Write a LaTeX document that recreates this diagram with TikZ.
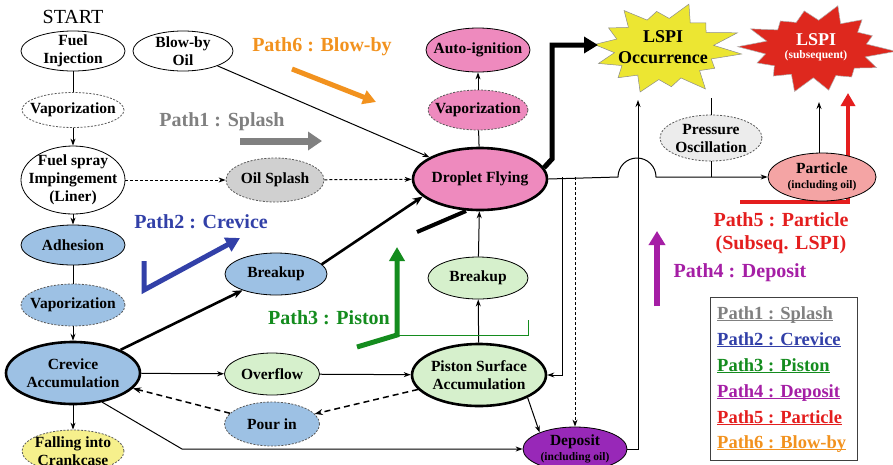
\documentclass[tikz,border=0pt]{standalone}
\usepackage{fontspec}
\setmainfont{Liberation Serif}
\usetikzlibrary{shapes.geometric,arrows.meta,calc}
\newcommand\nodefnt{\fontsize{15.5}{18}\selectfont\bfseries}
\newcommand\smallfnt{\fontsize{11.5}{13}\selectfont\bfseries}
\newcommand\pathfnt{\fontsize{20}{23}\selectfont\bfseries}
\newcommand\legfnt{\fontsize{18.5}{21}\selectfont\bfseries}
\newcommand\lspifnt{\fontsize{18}{21}\selectfont\bfseries}
\newcommand\myul[1]{\underline{\smash{#1}}}
\definecolor{cblue}{RGB}{157,193,228}
\definecolor{cgreen}{RGB}{214,240,204}
\definecolor{cpink}{RGB}{238,138,190}
\definecolor{cpurple}{RGB}{152,40,184}
\definecolor{cyel}{RGB}{246,240,140}
\definecolor{cgray}{RGB}{208,208,208}
\definecolor{cgraylt}{RGB}{236,236,236}
\definecolor{cpart}{RGB}{244,164,164}
\definecolor{staryel}{RGB}{236,230,50}
\definecolor{starred}{RGB}{222,40,30}
\definecolor{pa}{RGB}{128,128,128}
\definecolor{pb}{RGB}{50,64,168}
\definecolor{pc}{RGB}{20,140,30}
\definecolor{pd}{RGB}{165,30,165}
\definecolor{pe}{RGB}{228,30,30}
\definecolor{pf}{RGB}{242,146,30}
\begin{document}
\begin{tikzpicture}[x=1pt,y=-1pt,
 el/.style={ellipse, draw=black, line width=0.8pt, inner xsep=-20pt, inner ysep=-6pt, align=center, font=\nodefnt, text=black},
 dsh/.style={draw=black!65, dash pattern=on 2pt off 1.5pt},
 thk/.style={line width=2.6pt},
 conn/.style={line width=1pt, -{Stealth[length=7pt,width=5pt]}},
 pl/.style={line width=1pt},
 dconn/.style={conn, dash pattern=on 3pt off 2pt},
 ddconn/.style={line width=1.5pt, -{Stealth[length=8pt,width=6pt]}, dash pattern=on 6pt off 4pt},
 bigconn/.style={line width=2.6pt, -{Stealth[length=10pt,width=8pt]}},
 plabel/.style={font=\pathfnt},
 legentry/.style={font=\legfnt, anchor=base west, inner sep=0pt},
 fatarrow/.style={-{Triangle[length=14pt,width=16pt]}, line join=miter}
]
\clip (0,0) rectangle (893,464);
\fill[white] (0,0) rectangle (893,464);

% ---------- stars ----------
\fill[staryel, draw=black!45, line width=0.5pt]
  plot[samples at={0,...,27}, variable=\k]
  ({664+ifthenelse(mod(\k,2)==0,(0.88+0.12*cos(\k*97)),0.64)*78*cos(\k*360/28+6)},
   {49+ifthenelse(mod(\k,2)==0,(0.88+0.12*cos(\k*97)),0.64)*48*sin(\k*360/28+6)}) -- cycle;
\fill[starred, draw=black!30, line width=0.5pt]
  plot[samples at={0,...,27}, variable=\k]
  ({816+ifthenelse(mod(\k,2)==0,(0.88+0.12*cos(\k*131)),0.64)*80*cos(\k*360/28+3)},
   {49+ifthenelse(mod(\k,2)==0,(0.88+0.12*cos(\k*131)),0.64)*45*sin(\k*360/28+3)}) -- cycle;
\node[align=center, font=\lspifnt, inner sep=0pt] (lspi) at (663,47) {LSPI\\Occurrence};
\node[align=center, text=white, inner sep=0pt] (lspib) at (816,47) {{\lspifnt LSPI}\\[1pt]{\smallfnt (subsequent)}};
\coordinate (lspiW) at (598,45);
\coordinate (lspiS) at (638,100);
\coordinate (lspiP) at (711,98);
\coordinate (lspibS) at (819,102);

% ---------- Path5 arrow (behind the Particle node) ----------
\draw[pe, line width=4pt, line join=miter, -{Triangle[length=13pt,width=14pt]}] (740,202) -- (848,202) -- (848,93);

% ---------- left column ----------
\node[font=\fontsize{20}{22}\selectfont, inner sep=0pt] (start) at (73,17) {START};
\node[el, fill=white, minimum width=104pt, minimum height=40pt] (fi) at (73,51) {Fuel\\Injection};
\node[el, fill=white, minimum width=100pt, minimum height=40pt] (bo) at (183,51) {Blow-by\\Oil};
\node[el, dsh, fill=white, minimum width=102pt, minimum height=35pt] (v1) at (73,110) {Vaporization};
\node[el, fill=white, minimum width=104pt, minimum height=68pt] (fs) at (73,180) {Fuel spray\\Impingement\\(Liner)};
\node[el, dsh, fill=cgray, minimum width=98pt, minimum height=44pt] (os) at (275,180) {Oil Splash};
\node[el, fill=cblue, minimum width=104pt, minimum height=40pt] (adh) at (73,245) {Adhesion};
\node[el, dsh, fill=cblue, minimum width=104pt, minimum height=42pt] (v2) at (73,305) {Vaporization};
\node[el, thk, fill=cblue, minimum width=134pt, minimum height=62pt] (ca) at (73,373) {Crevice\\Accumulation};
\node[el, dsh, fill=cyel, minimum width=102pt, minimum height=42pt] (fc) at (73,451) {Falling into\\Crankcase};
\node[el, fill=cblue, minimum width=102pt, minimum height=42pt] (bb) at (276,274) {Breakup};
\node[el, fill=cgreen, minimum width=95pt, minimum height=42pt] (ov) at (272,374) {Overflow};
\node[el, dsh, fill=cblue, minimum width=95pt, minimum height=44pt] (pi) at (272,424) {Pour in};

% ---------- middle column ----------
\node[el, thk, fill=cpink, minimum width=134pt, minimum height=62pt] (df) at (480,179) {Droplet Flying};
\node[el, dsh, fill=cpink, minimum width=100pt, minimum height=40pt] (vp) at (478,110) {Vaporization};
\node[el, fill=cpink, minimum width=104pt, minimum height=44pt] (ai) at (478,50) {Auto-ignition};
\node[el, fill=cgreen, minimum width=100pt, minimum height=42pt] (bg) at (478,278) {Breakup};
\node[el, thk, fill=cgreen, minimum width=134pt, minimum height=62pt] (psa) at (479,375) {Piston Surface\\Accumulation};
\node[el, fill=cpurple, minimum width=104pt, minimum height=44pt] (dep) at (575,449) {Deposit\\[-3pt]{\smallfnt (including oil)}};

% ---------- right column ----------
\node[el, dsh, fill=cgraylt, minimum width=102pt, minimum height=46pt] (po) at (711,138) {Pressure\\Oscillation};
\node[el, fill=cpart, minimum width=108pt, minimum height=48pt] (part) at (822,177) {Particle\\[-3pt]{\smallfnt (including oil)}};

% ---------- connectors ----------
\draw[pl] (fi) -- (v1);
\draw[conn] (v1) -- (fs);
\draw[conn] (fs) -- (adh);
\draw[pl] (adh) -- (v2);
\draw[conn] (v2) -- (ca);
\draw[conn] (ca) -- (fc);
\draw[dconn] (fs) -- (os);
\draw[dconn] (os) -- (df);
\draw[conn] (bo) -- (df);
\draw[bigconn] (ca.26) -- (bb);
\draw[bigconn] (bb.12) -- (df.197);
\draw[conn] (ca) -- (ov);
\draw[conn] (ov) -- (psa);
\draw[ddconn] (psa) -- (pi);
\draw[ddconn] (pi) -- (ca);
\draw[conn] (ca.-45) -- (182,449) -- (dep.west);
\draw[conn] (psa.-25) -- (dep.155);
\draw[conn] (psa) -- (bg);
\draw[conn] (bg) -- (df);
\draw[pl] (df) -- (vp);
\draw[conn] (vp) -- (ai);
\draw[line width=4pt] (417,232) -- (466,211);
\draw[line width=5pt, fatarrow] (df.10) -- (552,159) -- (552,45) -- (lspiW);
\draw[conn] (df.east) -- (618,177) arc (180:360:19) -- (part.west);
\coordinate (j1) at (562,177);
\coordinate (j2) at (575,177);
\draw[conn] (j1) |- (psa.east);
\draw[dconn] (j2) -- (dep.north);
\draw[conn] (dep.east) -| (lspiS);
\draw[pl] (po.south) -- (711,177);
\draw[pl] (po.north) -- (lspiP);
\draw[conn] (part.north -| lspibS) -- (lspibS);

% ---------- path labels & arrows ----------
\node[plabel, text=pf] (l6) at (322,47) {Path6 : Blow-by};
\draw[pf, line width=5pt, -{Triangle[length=13pt,width=14pt]}] (292,69) -- (376,102);
\node[plabel, text=pa] (l1) at (222,122) {Path1 : Splash};
\draw[pa, line width=7pt, -{Triangle[length=14pt,width=18pt]}] (240,141) -- (322,141);
\node[plabel, text=pb] (l2) at (201,222) {Path2 : Crevice};
\draw[pb, line width=5pt, line join=miter, -{Triangle[length=14pt,width=15pt]}] (144,261) -- (144,290) -- (240,238);
\node[plabel, text=pc] (l3) at (329,318) {Path3 : Piston};
\draw[pc, line width=1pt] (397,335) -- (528,335) -- (528,320);
\draw[pc, line width=5pt, line join=miter, -{Triangle[length=14pt,width=15pt]}] (357,347) -- (397,335) -- (397,247);
\node[plabel, text=pd] (l4) at (740,273) {Path4 : Deposit};
\draw[pd, line width=6pt, -{Triangle[length=14pt,width=16pt]}] (657,306) -- (657,231);
\node[plabel, text=pe, align=center] (l5) at (781,233) {Path5 : Particle\\(Subseq. LSPI)};

% ---------- legend ----------
\node[draw=black!75, line width=1pt, minimum width=147pt, minimum height=163pt, inner sep=0pt] (leg) at (783.5,378.5) {};
\node[legentry, text=pa] at (717,319) {\myul{Path1 : Splash}};
\node[legentry, text=pb] at (717,345) {\myul{Path2 : Crevice}};
\node[legentry, text=pc] at (717,371) {\myul{Path3 : Piston}};
\node[legentry, text=pd] at (717,397) {\myul{Path4 : Deposit}};
\node[legentry, text=pe] at (717,423) {\myul{Path5 : Particle}};
\node[legentry, text=pf] at (717,448) {\myul{Path6 : Blow-by}};
\end{tikzpicture}
\end{document}
